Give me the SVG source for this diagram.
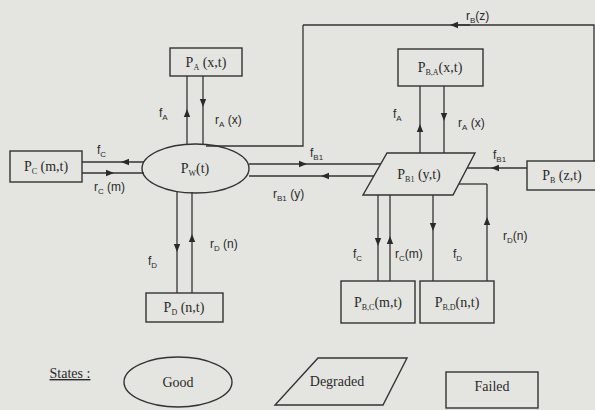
<svg xmlns="http://www.w3.org/2000/svg" width="595" height="410" viewBox="0 0 595 410">
<style>
.bg{fill:#e4e4e1}
.n{fill:none;stroke:#333;stroke-width:1.4}
.c{fill:none;stroke:#333;stroke-width:1.3}
.a{marker-mid:url(#ah)}
.t{font-family:"Liberation Serif",serif;font-size:14px;fill:#2a2a2a;text-anchor:middle}
.l{font-family:"Liberation Sans",sans-serif;font-size:12px;fill:#2a2a2a}
.s{font-size:8px}
</style>
<defs>
<marker id="ah" viewBox="0 0 10 10" refX="5" refY="5" markerWidth="8" markerHeight="8" markerUnits="userSpaceOnUse" orient="auto">
<path d="M0,1 L10,5 L0,9 z" fill="#2a2a2a"/>
</marker>
</defs>
<rect class="bg" x="0" y="0" width="595" height="410"/>

<g id="connectors">
<path class="c a" d="M187,144.5 L187,113 L187,76"/>
<path class="c a" d="M203,76 L203,103 L203,144.5"/>
<path class="c" d="M594,161 L594,25 L454,25"/>
<path class="c a" d="M470,25 L454,25 L303,25"/>
<path class="c" d="M303,25 L303,146 L206,146"/>
<path class="c a" d="M144,162 L125,162 L82,162"/>
<path class="c a" d="M82,173 L110,173 L144,173"/>
<path class="c a" d="M249,164 L303,164 L381,164"/>
<path class="c a" d="M374,176 L325,176 L249,176"/>
<path class="c a" d="M420,153 L420,128 L420,86"/>
<path class="c a" d="M444,86 L444,117 L444,153"/>
<path class="c a" d="M527,168 L495,168 L467,168"/>
<path class="c a" d="M487,281 L487,221 L487,184"/>
<path class="c" d="M487,184 L459,184"/>
<path class="c a" d="M378,195 L378,242 L378,281"/>
<path class="c a" d="M390,281 L390,240 L390,195"/>
<path class="c a" d="M433,195 L433,227 L433,281"/>
<path class="c a" d="M177,191.5 L177,248 L177,293"/>
<path class="c a" d="M192,293 L192,238 L192,192"/>
</g>

<g id="labels">
<text class="l" x="159" y="117">f<tspan class="s" dy="3">A</tspan></text>
<text class="l" x="215" y="124">r<tspan class="s" dy="3">A</tspan><tspan dy="-3"> (x)</tspan></text>
<text class="l" x="97" y="154">f<tspan class="s" dy="3">C</tspan></text>
<text class="l" x="94" y="191">r<tspan class="s" dy="3">C</tspan><tspan dy="-3"> (m)</tspan></text>
<text class="l" x="310" y="157">f<tspan class="s" dy="3">B1</tspan></text>
<text class="l" x="273" y="198">r<tspan class="s" dy="3">B1</tspan><tspan dy="-3"> (y)</tspan></text>
<text class="l" x="466" y="20">r<tspan class="s" dy="3">B</tspan><tspan dy="-3">(z)</tspan></text>
<text class="l" x="393" y="118">f<tspan class="s" dy="3">A</tspan></text>
<text class="l" x="458" y="127">r<tspan class="s" dy="3">A</tspan><tspan dy="-3"> (x)</tspan></text>
<text class="l" x="493" y="159">f<tspan class="s" dy="3">B1</tspan></text>
<text class="l" x="353" y="258">f<tspan class="s" dy="3">C</tspan></text>
<text class="l" x="395" y="258">r<tspan class="s" dy="3">C</tspan><tspan dy="-3">(m)</tspan></text>
<text class="l" x="453" y="258">f<tspan class="s" dy="3">D</tspan></text>
<text class="l" x="503" y="240">r<tspan class="s" dy="3">D</tspan><tspan dy="-3">(n)</tspan></text>
<text class="l" x="148" y="265">f<tspan class="s" dy="3">D</tspan></text>
<text class="l" x="210" y="248">r<tspan class="s" dy="3">D</tspan><tspan dy="-3"> (n)</tspan></text>
</g>

<g id="PA">
<rect class="n" x="170" y="48" width="72" height="28"/>
<text class="t" x="206" y="67">P<tspan class="s" dy="3">A</tspan><tspan dy="-3"> (x,t)</tspan></text>
</g>
<g id="PW">
<ellipse class="n" cx="195.5" cy="168.5" rx="53.5" ry="24.5"/>
<text class="t" x="195" y="173">P<tspan class="s" dy="3">W</tspan><tspan dy="-3">(t)</tspan></text>
</g>
<g id="PC">
<rect class="n" x="10" y="151" width="72" height="31"/>
<text class="t" x="46" y="171">P<tspan class="s" dy="3">C</tspan><tspan dy="-3"> (m,t)</tspan></text>
</g>
<g id="PD">
<rect class="n" x="146" y="293" width="77" height="29"/>
<text class="t" x="184" y="312">P<tspan class="s" dy="3">D</tspan><tspan dy="-3"> (n,t)</tspan></text>
</g>
<g id="PBA">
<rect class="n" x="398" y="49" width="85" height="37"/>
<text class="t" x="440" y="72">P<tspan class="s" dy="3">B,A</tspan><tspan dy="-3">(x,t)</tspan></text>
</g>
<g id="PB1">
<polygon class="n" points="387,153 475,153 453,195 363,195"/>
<text class="t" x="419" y="179">P<tspan class="s" dy="3">B1</tspan><tspan dy="-3"> (y,t)</tspan></text>
</g>
<g id="PB">
<rect class="n" x="527" y="161" width="70" height="29"/>
<text class="t" x="562" y="180">P<tspan class="s" dy="3">B</tspan><tspan dy="-3"> (z,t)</tspan></text>
</g>
<g id="PBC">
<rect class="n" x="341" y="281" width="74" height="42"/>
<text class="t" x="378" y="307">P<tspan class="s" dy="3">B,C</tspan><tspan dy="-3">(m,t)</tspan></text>
</g>
<g id="PBD">
<rect class="n" x="420" y="281" width="74" height="42"/>
<text class="t" x="457" y="307">P<tspan class="s" dy="3">B,D</tspan><tspan dy="-3">(n,t)</tspan></text>
</g>

<g id="legend">
<text class="t" x="70" y="378" style="text-decoration:underline">States :</text>
<ellipse class="n" cx="178" cy="382" rx="54" ry="25"/>
<text class="t" x="178" y="387">Good</text>
<polygon class="n" points="318,358 407,358 383,405 275,405"/>
<text class="t" x="337" y="386">Degraded</text>
<rect class="n" x="446" y="372" width="92" height="36"/>
<text class="t" x="492" y="391">Failed</text>
</g>
</svg>
